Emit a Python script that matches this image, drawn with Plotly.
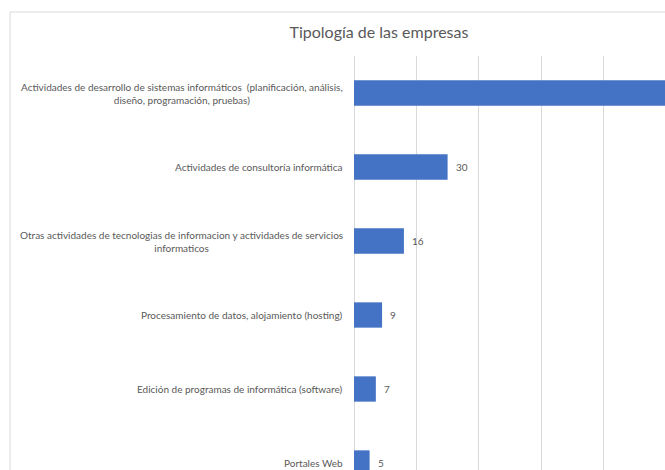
import plotly.graph_objects as go

# Company types and counts
categories = [
    "Actividades de desarrollo de sistemas informáticos  (planificación, análisis,<br>diseño, programación, pruebas)",
    "Actividades de consultoría informática",
    "Otras actividades de tecnologias de informacion y actividades de servicios<br>informaticos",
    "Procesamiento de datos, alojamiento (hosting)",
    "Edición de programas de informática (software)",
    "Portales Web",
]
values = [105, 30, 16, 9, 7, 5]
value_labels = ["105", "30", "16", "9", "7", "5"]

W, H = 665, 470
ML, MT, MR, MB = 354, 56, 0, 0
PW, PH = W - ML - MR, H - MT - MB
GRAY = "#595959"
GRID = "#d9d9d9"
FONT = "Lato, 'Open Sans', sans-serif"

idx = list(range(len(categories)))

fig = go.Figure(
    go.Bar(
        x=values,
        y=idx,
        orientation="h",
        marker=dict(color="#4472C4", line=dict(width=0)),
        hoverinfo="skip",
    )
)

annotations = []
# category labels to the left of the axis, centred lines
for i, cat in enumerate(categories):
    annotations.append(dict(
        x=0, xref="paper", y=i, yref="y",
        text=cat, showarrow=False,
        xanchor="right", yanchor="middle", xshift=-9,
        align="center",
        font=dict(family=FONT, size=10, color=GRAY),
    ))
# value labels just past the bar ends
for i, (v, lab) in enumerate(zip(values, value_labels)):
    annotations.append(dict(
        x=v, xref="x", y=i, yref="y",
        text=lab, showarrow=False,
        xanchor="left", yanchor="middle", xshift=6,
        font=dict(family=FONT, size=10, color=GRAY),
    ))

# outer chart frame (extends past the visible area)
px_to_paper_x = lambda px: (px - ML) / PW
px_to_paper_y = lambda py: 1 - (py - MT) / PH
shapes = [dict(
    type="rect", xref="paper", yref="paper",
    x0=px_to_paper_x(10), x1=px_to_paper_x(760),
    y0=px_to_paper_y(600), y1=px_to_paper_y(12),
    line=dict(color=GRID, width=1), fillcolor="rgba(0,0,0,0)",
    layer="below",
)]

fig.update_layout(
    width=W, height=H,
    margin=dict(l=ML, r=MR, t=MT, b=MB, pad=0),
    paper_bgcolor="white", plot_bgcolor="white",
    showlegend=False,
    bargap=0.658,
    title=dict(
        text="Tipología de las empresas",
        x=379 / W, xref="container", xanchor="center",
        y=1 - 32 / H, yref="container", yanchor="middle",
        font=dict(family=FONT, size=16, color=GRAY),
    ),
    xaxis=dict(
        range=[0, PW / 3.12], dtick=20, tick0=0,
        showgrid=True, gridcolor=GRID, gridwidth=1,
        zeroline=True, zerolinecolor=GRID, zerolinewidth=1,
        showticklabels=False, showline=False, ticks="",
        fixedrange=True,
    ),
    yaxis=dict(
        range=[-0.5 + PH / 74, -0.5],
        showgrid=False, zeroline=False, showticklabels=False,
        showline=False, ticks="", fixedrange=True,
    ),
    annotations=annotations,
    shapes=shapes,
)

fig.write_html("out.html", config=dict(displayModeBar=False))
